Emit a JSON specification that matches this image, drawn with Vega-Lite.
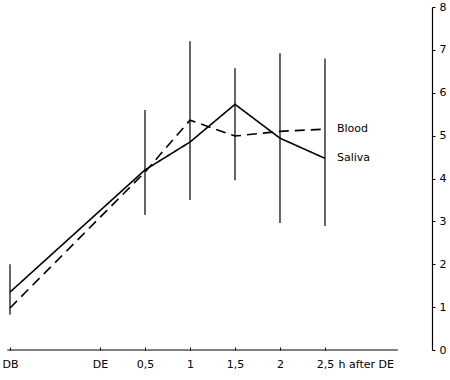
{
  "$schema": "https://vega.github.io/schema/vega-lite/v6.json",
  "width": 432,
  "height": 343,
  "autosize": "none",
  "padding": {"left": 0, "top": 7, "right": 18, "bottom": 30},
  "background": "white",
  "config": {"view": {"stroke": null}, "font": "DejaVu Sans"},
  "datasets": {
    "series": [
      {"series": "Saliva", "h": -1, "v": 1.35},
      {"series": "Saliva", "h": 0.5, "v": 4.2},
      {"series": "Saliva", "h": 1, "v": 4.85},
      {"series": "Saliva", "h": 1.5, "v": 5.73},
      {"series": "Saliva", "h": 2, "v": 4.94},
      {"series": "Saliva", "h": 2.5, "v": 4.47},
      {"series": "Blood", "h": -1, "v": 0.98},
      {"series": "Blood", "h": 0.5, "v": 4.15},
      {"series": "Blood", "h": 1, "v": 5.36},
      {"series": "Blood", "h": 1.5, "v": 4.99},
      {"series": "Blood", "h": 2, "v": 5.1},
      {"series": "Blood", "h": 2.5, "v": 5.15}
    ],
    "bars": [
      {"h": -1, "lo": 0.82, "hi": 2.0},
      {"h": 0.5, "lo": 3.15, "hi": 5.6},
      {"h": 1, "lo": 3.5, "hi": 7.2},
      {"h": 1.5, "lo": 3.96, "hi": 6.57},
      {"h": 2, "lo": 2.96, "hi": 6.92},
      {"h": 2.5, "lo": 2.89, "hi": 6.8}
    ]
  },
  "layer": [
    {
      "data": {"name": "bars"},
      "mark": {"type": "rule", "color": "black", "strokeWidth": 1.2},
      "encoding": {
        "x": {
          "field": "h", "type": "quantitative",
          "scale": {"domain": [-1.111, 3.689], "nice": false, "zero": false},
          "axis": {
            "domain": false, "grid": false,
            "values": [-1, 0, 0.5, 1, 1.5, 2, 2.5],
            "labelExpr": "datum.value == -1 ? 'DB' : datum.value == 0 ? 'DE' : replace(format(datum.value, ''), '.', ',')",
            "tickSize": -3, "tickColor": "black", "tickWidth": 1,
            "labelFontSize": 11, "labelColor": "black", "labelPadding": 11,
            "title": "h after DE", "titleFontSize": 11, "titleFontWeight": "normal", "titleColor": "black",
            "titleX": 338, "titleY": 8, "titleAlign": "left", "titleBaseline": "top", "titleAnchor": null
          }
        },
        "y": {
          "field": "lo", "type": "quantitative",
          "scale": {"domain": [0, 8], "nice": false},
          "axis": {
            "orient": "right", "grid": false, "values": [0, 1, 2, 3, 4, 5, 6, 7, 8],
            "domainColor": "black", "domainWidth": 1.2,
            "tickSize": 3, "tickColor": "black",
            "labelFontSize": 11, "labelColor": "black", "labelPadding": 4,
            "title": null
          }
        },
        "y2": {"field": "hi"}
      }
    },
    {
      "data": {"name": "series"},
      "mark": {"type": "line", "color": "black", "strokeWidth": 1.6},
      "encoding": {
        "x": {"field": "h", "type": "quantitative"},
        "y": {"field": "v", "type": "quantitative"},
        "strokeDash": {
          "field": "series", "type": "nominal",
          "scale": {"domain": ["Saliva", "Blood"], "range": [[1, 0], [10, 6]]},
          "legend": null
        }
      }
    },
    {
      "data": {"name": "series"},
      "transform": [{"filter": "datum.h == 2.5"}],
      "mark": {"type": "text", "align": "left", "baseline": "middle", "dx": 12, "fontSize": 11, "color": "black"},
      "encoding": {
        "x": {"field": "h", "type": "quantitative"},
        "y": {"field": "v", "type": "quantitative"},
        "text": {"field": "series"}
      }
    },
    {
      "data": {"values": [{}]},
      "mark": {"type": "rule", "color": "black", "strokeWidth": 1},
      "encoding": {
        "x": {"datum": -1.03},
        "x2": {"datum": 3.31},
        "y": {"datum": 0}
      }
    }
  ]
}
